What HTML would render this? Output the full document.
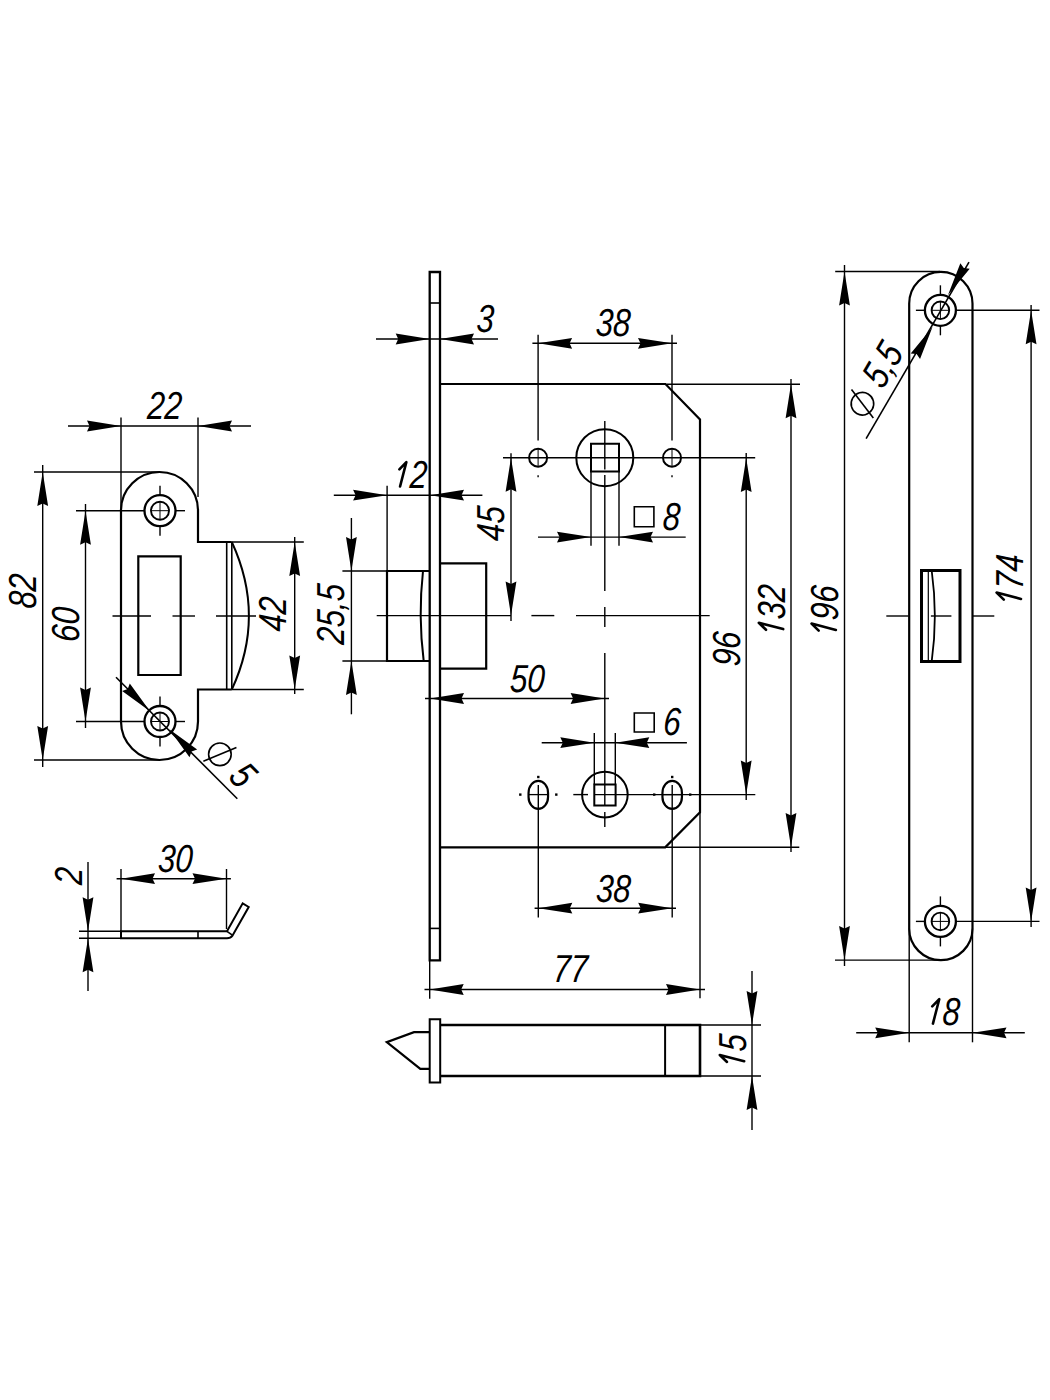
<!DOCTYPE html>
<html><head><meta charset="utf-8"><style>
html,body{margin:0;padding:0;background:#fff;}
svg{display:block;}
text{font-family:"Liberation Sans",sans-serif;font-style:italic;font-size:39px;fill:#000;text-anchor:middle;stroke:none;}
</style></head><body>
<svg width="1050" height="1400" viewBox="0 0 1050 1400" stroke="#000" stroke-linecap="butt" stroke-linejoin="miter">
<rect x="0" y="0" width="1050" height="1400" fill="#fff" stroke="none"/>
<path d="M121 510.5 A38.5 38.5 0 0 1 198 510.5 L198 542 L231.8 542 M231.8 689.5 L198 689.5 L198 721.5 A38.5 38.5 0 0 1 121 721.5 L121 510.5" stroke-width="2.2" fill="none"/>
<line x1="226.7" y1="542" x2="226.7" y2="689.5" stroke-width="1.6"/>
<line x1="231.8" y1="542" x2="231.8" y2="689.5" stroke-width="1.6"/>
<path d="M231.8 542 Q266 616 231.8 689.5" stroke-width="2" fill="none"/>
<path d="M138.3 556.4 L180.7 556.4 L180.7 675 L138.3 675 Z" stroke-width="2.2" fill="none"/>
<circle cx="160" cy="510.7" r="15.5" stroke-width="2.3" fill="none"/>
<circle cx="160" cy="510.7" r="9" stroke-width="1.9" fill="none"/>
<line x1="151.4" y1="510.7" x2="168.6" y2="510.7" stroke-width="1"/>
<line x1="160" y1="502.1" x2="160" y2="519.3" stroke-width="1"/>
<line x1="160" y1="485.7" x2="160" y2="495.2" stroke-width="1.4"/>
<line x1="160" y1="526.2" x2="160" y2="535.7" stroke-width="1.4"/>
<line x1="76" y1="510.7" x2="144.5" y2="510.7" stroke-width="1.4"/>
<line x1="175.5" y1="510.7" x2="185" y2="510.7" stroke-width="1.4"/>
<circle cx="160" cy="721.5" r="15.5" stroke-width="2.3" fill="none"/>
<circle cx="160" cy="721.5" r="9" stroke-width="1.9" fill="none"/>
<line x1="151.4" y1="721.5" x2="168.6" y2="721.5" stroke-width="1"/>
<line x1="160" y1="712.9" x2="160" y2="730.1" stroke-width="1"/>
<line x1="160" y1="696.5" x2="160" y2="706" stroke-width="1.4"/>
<line x1="160" y1="737" x2="160" y2="746.5" stroke-width="1.4"/>
<line x1="76" y1="721.5" x2="144.5" y2="721.5" stroke-width="1.4"/>
<line x1="175.5" y1="721.5" x2="185" y2="721.5" stroke-width="1.4"/>
<line x1="112.5" y1="616" x2="151" y2="616" stroke-width="1.4"/>
<line x1="172.5" y1="616" x2="195" y2="616" stroke-width="1.4"/>
<line x1="216" y1="616" x2="256" y2="616" stroke-width="1.4"/>
<line x1="68" y1="426" x2="251" y2="426" stroke-width="1.4"/>
<path d="M121 426 L87 431.4 L89.5 426 L87 420.6 Z" stroke="none" fill="#000"/>
<path d="M198 426 L232 420.6 L229.5 426 L232 431.4 Z" stroke="none" fill="#000"/>
<line x1="121" y1="417.5" x2="121" y2="510.5" stroke-width="1.4"/>
<line x1="198" y1="417.5" x2="198" y2="497" stroke-width="1.4"/>
<text transform="translate(164.8 405.2) rotate(0) scale(0.8 1) skewX(-4)" x="0" y="13.84">22</text>
<line x1="42.7" y1="465" x2="42.7" y2="767" stroke-width="1.4"/>
<path d="M42.7 472 L48.1 506 L42.7 503.5 L37.3 506 Z" stroke="none" fill="#000"/>
<path d="M42.7 760 L37.3 726 L42.7 728.5 L48.1 726 Z" stroke="none" fill="#000"/>
<line x1="34" y1="472" x2="159" y2="472" stroke-width="1.4"/>
<line x1="34" y1="760" x2="160" y2="760" stroke-width="1.4"/>
<text transform="translate(22 591) rotate(-90) scale(0.8 1) skewX(-4)" x="0" y="13.84">82</text>
<line x1="85.5" y1="504" x2="85.5" y2="728" stroke-width="1.4"/>
<path d="M85.5 510.7 L90.9 544.7 L85.5 542.2 L80.1 544.7 Z" stroke="none" fill="#000"/>
<path d="M85.5 721.5 L80.1 687.5 L85.5 690 L90.9 687.5 Z" stroke="none" fill="#000"/>
<text transform="translate(64.7 624.3) rotate(-90) scale(0.8 1) skewX(-4)" x="0" y="13.84">60</text>
<line x1="231.8" y1="542" x2="303.8" y2="542" stroke-width="1.4"/>
<line x1="231.8" y1="689.5" x2="303.8" y2="689.5" stroke-width="1.4"/>
<line x1="294.7" y1="537" x2="294.7" y2="694" stroke-width="1.4"/>
<path d="M294.7 542 L300.1 576 L294.7 573.5 L289.3 576 Z" stroke="none" fill="#000"/>
<path d="M294.7 689.5 L289.3 655.5 L294.7 658 L300.1 655.5 Z" stroke="none" fill="#000"/>
<text transform="translate(272.5 614) rotate(-90) scale(0.8 1) skewX(-4)" x="0" y="13.84">42</text>
<line x1="116" y1="677.3" x2="237.3" y2="798.7" stroke-width="1.6"/>
<path d="M150 711.3 L122.14 691.08 L127.73 689.03 L129.78 683.44 Z" stroke="none" fill="#000"/>
<path d="M169.3 729.3 L197.16 749.52 L191.57 751.57 L189.52 757.16 Z" stroke="none" fill="#000"/>
<g transform="translate(160 721.3) rotate(45)"><circle cx="65.7" cy="-19" r="11.3" stroke-width="1.6" fill="none"/><line x1="58.9" y1="-2.4" x2="72.5" y2="-35.6" stroke-width="1.6"/><text transform="translate(88 -21) scale(0.8 1) skewX(-4)" x="0" y="13.42" style="text-anchor:start">5</text></g>
<path d="M121 931.3 L227 931.3 L242.7 903.3 L248.7 907 L232.7 935.3 Q230.5 938.2 227 938.2 L121 938.2 Z" stroke-width="2" fill="none"/>
<line x1="227" y1="931.3" x2="232" y2="934.8" stroke-width="1.6"/>
<line x1="198" y1="931.3" x2="198" y2="938.2" stroke-width="1.6"/>
<line x1="79" y1="931.3" x2="121" y2="931.3" stroke-width="1.4"/>
<line x1="79" y1="938.2" x2="121" y2="938.2" stroke-width="1.4"/>
<line x1="88" y1="862" x2="88" y2="991" stroke-width="1.4"/>
<path d="M88 931.3 L82.6 897.3 L88 899.8 L93.4 897.3 Z" stroke="none" fill="#000"/>
<path d="M88 938.2 L93.4 972.2 L88 969.7 L82.6 972.2 Z" stroke="none" fill="#000"/>
<text transform="translate(68 875.7) rotate(-90) scale(0.8 1) skewX(-4)" x="0" y="13.84">2</text>
<line x1="116.6" y1="878.7" x2="230.9" y2="878.7" stroke-width="1.4"/>
<path d="M121 878.7 L155 873.3 L152.5 878.7 L155 884.1 Z" stroke="none" fill="#000"/>
<path d="M226.5 878.7 L192.5 884.1 L195 878.7 L192.5 873.3 Z" stroke="none" fill="#000"/>
<line x1="121" y1="869" x2="121" y2="931" stroke-width="1.4"/>
<line x1="226.5" y1="869" x2="226.5" y2="929" stroke-width="1.4"/>
<text transform="translate(175.5 858) rotate(0) scale(0.8 1) skewX(-4)" x="0" y="13.84">30</text>
<path d="M429.7 272 L440 272 L440 960.3 L429.7 960.3 Z" stroke-width="2.3" fill="none"/>
<line x1="429.7" y1="303" x2="440" y2="303" stroke-width="1.6"/>
<line x1="429.7" y1="928.4" x2="440" y2="928.4" stroke-width="1.6"/>
<path d="M440 384 L665.5 384 L700 419.5 L700 812.4 L665.2 847.4 L440 847.4" stroke-width="2.2" fill="none"/>
<path d="M430 571 L387 571 L387 661 L430 661" stroke-width="2.2" fill="none"/>
<path d="M423 571 Q418 616 423.7 661" stroke-width="2" fill="none"/>
<path d="M440 563.4 L486.2 563.4 L486.2 668.6 L440 668.6" stroke-width="2.2" fill="none"/>
<circle cx="538.1" cy="457.7" r="9" stroke-width="2" fill="none"/>
<line x1="538.1" y1="448.7" x2="538.1" y2="466.7" stroke-width="1"/>
<circle cx="672" cy="457.7" r="9" stroke-width="2" fill="none"/>
<line x1="672" y1="448.7" x2="672" y2="466.7" stroke-width="1"/>
<circle cx="604.8" cy="457.7" r="28.5" stroke-width="2" fill="none"/>
<line x1="538.1" y1="475.3" x2="538.1" y2="477.3" stroke-width="1.4"/>
<line x1="672" y1="475.3" x2="672" y2="477.3" stroke-width="1.4"/>
<path d="M591 443.8 L619 443.8 L619 471.4 L591 471.4 Z" stroke-width="2" fill="none"/>
<line x1="503" y1="457.7" x2="755.2" y2="457.7" stroke-width="1.4"/>
<line x1="604.8" y1="421" x2="604.8" y2="469.5" stroke-width="1.4"/>
<line x1="604.8" y1="475" x2="604.8" y2="591" stroke-width="1.4"/>
<line x1="604.8" y1="607" x2="604.8" y2="627" stroke-width="1.4"/>
<line x1="604.8" y1="653" x2="604.8" y2="805.5" stroke-width="1.4"/>
<line x1="604.8" y1="812" x2="604.8" y2="827" stroke-width="1.4"/>
<line x1="532.4" y1="343.3" x2="677" y2="343.3" stroke-width="1.4"/>
<path d="M538.1 343.3 L572.1 337.9 L569.6 343.3 L572.1 348.7 Z" stroke="none" fill="#000"/>
<path d="M672 343.3 L638 348.7 L640.5 343.3 L638 337.9 Z" stroke="none" fill="#000"/>
<line x1="538.1" y1="334.8" x2="538.1" y2="440.5" stroke-width="1.4"/>
<line x1="672" y1="334.8" x2="672" y2="440.5" stroke-width="1.4"/>
<text transform="translate(613.3 322.5) rotate(0) scale(0.8 1) skewX(-4)" x="0" y="13.84">38</text>
<line x1="376" y1="339" x2="498" y2="339" stroke-width="1.4"/>
<path d="M429.7 339 L395.7 344.4 L398.2 339 L395.7 333.6 Z" stroke="none" fill="#000"/>
<path d="M440 339 L474 333.6 L471.5 339 L474 344.4 Z" stroke="none" fill="#000"/>
<text transform="translate(485.5 318.5) rotate(0) scale(0.8 1) skewX(-4)" x="0" y="13.84">3</text>
<line x1="333.8" y1="495.2" x2="482.4" y2="495.2" stroke-width="1.4"/>
<path d="M387.1 495.2 L353.1 500.6 L355.6 495.2 L353.1 489.8 Z" stroke="none" fill="#000"/>
<path d="M430 495.2 L464 489.8 L461.5 495.2 L464 500.6 Z" stroke="none" fill="#000"/>
<line x1="387.1" y1="485.7" x2="387.1" y2="571" stroke-width="1.4"/>
<g transform="translate(412.8 474.3) rotate(0)"><path d="M-13.45 -5 L-6.45 -12.2 L-12.75 12.2" stroke-width="2.6" fill="none" stroke-linecap="round" stroke-linejoin="round"/><text transform="translate(5.85 0) scale(0.8 1) skewX(-4)" x="0" y="13.84">2</text></g>
<line x1="511" y1="453.3" x2="511" y2="621" stroke-width="1.4"/>
<path d="M511 457.7 L516.4 491.7 L511 489.2 L505.6 491.7 Z" stroke="none" fill="#000"/>
<path d="M511 615.4 L505.6 581.4 L511 583.9 L516.4 581.4 Z" stroke="none" fill="#000"/>
<text transform="translate(489.8 523.3) rotate(-90) scale(0.8 1) skewX(-4)" x="0" y="13.84">45</text>
<line x1="376.7" y1="615.6" x2="511" y2="615.6" stroke-width="1.4"/>
<line x1="531.4" y1="615.6" x2="554.3" y2="615.6" stroke-width="1.4"/>
<line x1="576" y1="615.6" x2="709.7" y2="615.6" stroke-width="1.4"/>
<line x1="351.4" y1="518" x2="351.4" y2="714.3" stroke-width="1.4"/>
<path d="M351.4 571 L346 537 L351.4 539.5 L356.8 537 Z" stroke="none" fill="#000"/>
<path d="M351.4 661 L356.8 695 L351.4 692.5 L346 695 Z" stroke="none" fill="#000"/>
<line x1="342.4" y1="571" x2="387" y2="571" stroke-width="1.4"/>
<line x1="342.4" y1="661" x2="387" y2="661" stroke-width="1.4"/>
<text transform="translate(330.5 614) rotate(-90) scale(0.8 1) skewX(-4)" x="0" y="13.84">25,5</text>
<line x1="425" y1="698.5" x2="609" y2="698.5" stroke-width="1.4"/>
<path d="M430 698.5 L464 693.1 L461.5 698.5 L464 703.9 Z" stroke="none" fill="#000"/>
<path d="M604.6 698.5 L570.6 703.9 L573.1 698.5 L570.6 693.1 Z" stroke="none" fill="#000"/>
<text transform="translate(527.5 677.7) rotate(0) scale(0.8 1) skewX(-4)" x="0" y="13.84">50</text>
<line x1="538" y1="537.1" x2="685.7" y2="537.1" stroke-width="1.4"/>
<path d="M591 537.1 L557 542.5 L559.5 537.1 L557 531.7 Z" stroke="none" fill="#000"/>
<path d="M619 537.1 L653 531.7 L650.5 537.1 L653 542.5 Z" stroke="none" fill="#000"/>
<line x1="591" y1="471.4" x2="591" y2="545.7" stroke-width="1.4"/>
<line x1="619" y1="471.4" x2="619" y2="545.7" stroke-width="1.4"/>
<path d="M634.3 506.7 L653.9 506.7 L653.9 526.7 L634.3 526.7 Z" stroke-width="1.6" fill="none"/>
<text transform="translate(671.8 516.2) rotate(0) scale(0.8 1) skewX(-4)" x="0" y="13.84">8</text>
<line x1="541.7" y1="742.7" x2="686.9" y2="742.7" stroke-width="1.4"/>
<path d="M594.3 742.7 L560.3 748.1 L562.8 742.7 L560.3 737.3 Z" stroke="none" fill="#000"/>
<path d="M615.3 742.7 L649.3 737.3 L646.8 742.7 L649.3 748.1 Z" stroke="none" fill="#000"/>
<line x1="594.3" y1="733" x2="594.3" y2="784.6" stroke-width="1.4"/>
<line x1="615.3" y1="733" x2="615.3" y2="784.6" stroke-width="1.4"/>
<path d="M634.3 713 L654.2 713 L654.2 732 L634.3 732 Z" stroke-width="1.6" fill="none"/>
<text transform="translate(672.3 721.3) rotate(0) scale(0.8 1) skewX(-4)" x="0" y="13.84">6</text>
<rect x="528.55" y="780.9" width="19.5" height="28" rx="9.75" ry="12" stroke-width="2.2" fill="none"/>
<line x1="528.8" y1="794.6" x2="547.8" y2="794.6" stroke-width="1.3"/>
<line x1="538.3" y1="785" x2="538.3" y2="917.6" stroke-width="1.4"/>
<line x1="538.3" y1="775.8" x2="538.3" y2="778.2" stroke-width="2.4"/>
<line x1="520.3" y1="793.4" x2="520.3" y2="795.8" stroke-width="2.4"/>
<line x1="556.3" y1="793.4" x2="556.3" y2="795.8" stroke-width="2.4"/>
<rect x="662.45" y="780.9" width="19.5" height="28" rx="9.75" ry="12" stroke-width="2.2" fill="none"/>
<line x1="662.7" y1="794.6" x2="681.7" y2="794.6" stroke-width="1.3"/>
<line x1="672.2" y1="785" x2="672.2" y2="917.6" stroke-width="1.4"/>
<line x1="672.2" y1="775.8" x2="672.2" y2="778.2" stroke-width="2.4"/>
<line x1="654.2" y1="793.4" x2="654.2" y2="795.8" stroke-width="2.4"/>
<line x1="690.2" y1="793.4" x2="690.2" y2="795.8" stroke-width="2.4"/>
<circle cx="604.9" cy="794.6" r="22.8" stroke-width="2" fill="none"/>
<path d="M594.3 784.6 L615.6 784.6 L615.6 805.5 L594.3 805.5 Z" stroke-width="2" fill="none"/>
<line x1="573.3" y1="794.6" x2="588" y2="794.6" stroke-width="1.4"/>
<line x1="594.3" y1="794.6" x2="755.3" y2="794.6" stroke-width="1.4"/>
<line x1="534.6" y1="908.2" x2="676" y2="908.2" stroke-width="1.4"/>
<path d="M538.3 908.2 L572.3 902.8 L569.8 908.2 L572.3 913.6 Z" stroke="none" fill="#000"/>
<path d="M672.2 908.2 L638.2 913.6 L640.7 908.2 L638.2 902.8 Z" stroke="none" fill="#000"/>
<text transform="translate(613.6 887.8) rotate(0) scale(0.8 1) skewX(-4)" x="0" y="13.84">38</text>
<line x1="666.7" y1="384.2" x2="800" y2="384.2" stroke-width="1.4"/>
<line x1="665.2" y1="847.2" x2="799.3" y2="847.2" stroke-width="1.4"/>
<line x1="791" y1="379" x2="791" y2="852" stroke-width="1.4"/>
<path d="M791 384.3 L796.4 418.3 L791 415.8 L785.6 418.3 Z" stroke="none" fill="#000"/>
<path d="M791 847 L785.6 813 L791 815.5 L796.4 813 Z" stroke="none" fill="#000"/>
<g transform="translate(771 607.6) rotate(-90)"><path d="M-22.2 -5 L-15.2 -12.2 L-21.5 12.2" stroke-width="2.6" fill="none" stroke-linecap="round" stroke-linejoin="round"/><text transform="translate(5.85 0) scale(0.8 1) skewX(-4)" x="0" y="13.84">32</text></g>
<line x1="746.2" y1="453" x2="746.2" y2="800" stroke-width="1.4"/>
<path d="M746.2 458 L751.6 492 L746.2 489.5 L740.8 492 Z" stroke="none" fill="#000"/>
<path d="M746.2 794.6 L740.8 760.6 L746.2 763.1 L751.6 760.6 Z" stroke="none" fill="#000"/>
<text transform="translate(726 648.7) rotate(-90) scale(0.8 1) skewX(-4)" x="0" y="13.84">96</text>
<line x1="844.5" y1="265" x2="844.5" y2="966" stroke-width="1.4"/>
<path d="M844.5 271.5 L849.9 305.5 L844.5 303 L839.1 305.5 Z" stroke="none" fill="#000"/>
<path d="M844.5 960.1 L839.1 926.1 L844.5 928.6 L849.9 926.1 Z" stroke="none" fill="#000"/>
<line x1="835.2" y1="271.5" x2="940" y2="271.5" stroke-width="1.4"/>
<line x1="835" y1="960.1" x2="940" y2="960.1" stroke-width="1.4"/>
<g transform="translate(823.7 608.4) rotate(-90)"><path d="M-22.2 -5 L-15.2 -12.2 L-21.5 12.2" stroke-width="2.6" fill="none" stroke-linecap="round" stroke-linejoin="round"/><text transform="translate(5.85 0) scale(0.8 1) skewX(-4)" x="0" y="13.84">96</text></g>
<line x1="429.7" y1="960" x2="429.7" y2="998.7" stroke-width="1.4"/>
<line x1="700" y1="812" x2="700" y2="998.3" stroke-width="1.4"/>
<line x1="424.5" y1="989.5" x2="705" y2="989.5" stroke-width="1.4"/>
<path d="M429.7 989.5 L463.7 984.1 L461.2 989.5 L463.7 994.9 Z" stroke="none" fill="#000"/>
<path d="M700 989.5 L666 994.9 L668.5 989.5 L666 984.1 Z" stroke="none" fill="#000"/>
<text transform="translate(570.5 968.5) rotate(0) scale(0.8 1) skewX(-4)" x="0" y="13.84">77</text>
<path d="M429.7 1019.2 L440.2 1019.2 L440.2 1082.5 L429.7 1082.5 Z" stroke-width="2" fill="none"/>
<path d="M440.2 1025 L700 1025 L700 1076 L440.2 1076" stroke-width="2.6" fill="none"/>
<line x1="665.1" y1="1025" x2="665.1" y2="1076" stroke-width="2"/>
<path d="M429.7 1032.2 L414 1032.2 L386.8 1042.2 L420.3 1068.8 L429.7 1068.8" stroke-width="2.2" fill="none"/>
<line x1="700" y1="1025" x2="761" y2="1025" stroke-width="1.4"/>
<line x1="700" y1="1076" x2="761" y2="1076" stroke-width="1.4"/>
<line x1="752" y1="971" x2="752" y2="1130" stroke-width="1.4"/>
<path d="M752 1025 L746.6 991 L752 993.5 L757.4 991 Z" stroke="none" fill="#000"/>
<path d="M752 1076 L757.4 1110 L752 1107.5 L746.6 1110 Z" stroke="none" fill="#000"/>
<g transform="translate(732 1048.5) rotate(-90)"><path d="M-13.45 -5 L-6.45 -12.2 L-12.75 12.2" stroke-width="2.6" fill="none" stroke-linecap="round" stroke-linejoin="round"/><text transform="translate(5.85 0) scale(0.8 1) skewX(-4)" x="0" y="13.84">5</text></g>
<path d="M909.2 303.6 A31.65 31.65 0 0 1 972.5 303.6 L972.5 928.5 A31.65 31.65 0 0 1 909.2 928.5 Z" stroke-width="2.2" fill="none"/>
<circle cx="940.4" cy="310.3" r="15.5" stroke-width="2.3" fill="none"/>
<circle cx="940.4" cy="310.3" r="8.8" stroke-width="1.9" fill="none"/>
<line x1="931.9" y1="310.3" x2="948.9" y2="310.3" stroke-width="1"/>
<line x1="940.4" y1="301.8" x2="940.4" y2="318.8" stroke-width="1"/>
<line x1="940.4" y1="285.3" x2="940.4" y2="294.8" stroke-width="1.4"/>
<line x1="940.4" y1="325.8" x2="940.4" y2="335.3" stroke-width="1.4"/>
<line x1="915.9" y1="310.3" x2="924.9" y2="310.3" stroke-width="1.4"/>
<line x1="955.9" y1="310.3" x2="1039.5" y2="310.3" stroke-width="1.4"/>
<circle cx="940.4" cy="921.4" r="15.5" stroke-width="2.3" fill="none"/>
<circle cx="940.4" cy="921.4" r="8.8" stroke-width="1.9" fill="none"/>
<line x1="931.9" y1="921.4" x2="948.9" y2="921.4" stroke-width="1"/>
<line x1="940.4" y1="912.9" x2="940.4" y2="929.9" stroke-width="1"/>
<line x1="940.4" y1="896.4" x2="940.4" y2="905.9" stroke-width="1.4"/>
<line x1="940.4" y1="936.9" x2="940.4" y2="946.4" stroke-width="1.4"/>
<line x1="915.9" y1="921.4" x2="924.9" y2="921.4" stroke-width="1.4"/>
<line x1="955.9" y1="921.4" x2="1039.5" y2="921.4" stroke-width="1.4"/>
<path d="M921.5 570.5 L960 570.5 L960 661.5 L921.5 661.5 Z" stroke-width="3" fill="none"/>
<line x1="928.3" y1="570.5" x2="928.3" y2="661.5" stroke-width="1.2"/>
<path d="M931.7 570.5 Q938 616 931.7 661.5" stroke-width="1.8" fill="none"/>
<line x1="886.3" y1="616" x2="908.6" y2="616" stroke-width="1.4"/>
<line x1="930.9" y1="616" x2="951.4" y2="616" stroke-width="1.4"/>
<line x1="972.5" y1="616" x2="994.3" y2="616" stroke-width="1.4"/>
<line x1="1031.1" y1="305" x2="1031.1" y2="927" stroke-width="1.4"/>
<path d="M1031.1 310.3 L1036.5 344.3 L1031.1 341.8 L1025.7 344.3 Z" stroke="none" fill="#000"/>
<path d="M1031.1 921.4 L1025.7 887.4 L1031.1 889.9 L1036.5 887.4 Z" stroke="none" fill="#000"/>
<g transform="translate(1008.8 577.4) rotate(-90)"><path d="M-22.2 -5 L-15.2 -12.2 L-21.5 12.2" stroke-width="2.6" fill="none" stroke-linecap="round" stroke-linejoin="round"/><text transform="translate(5.85 0) scale(0.8 1) skewX(-4)" x="0" y="13.84">74</text></g>
<line x1="866.1" y1="438.6" x2="969" y2="262.1" stroke-width="1.6"/>
<path d="M932.5 326.9 L920.04 358.99 L916.63 354.11 L910.71 353.55 Z" stroke="none" fill="#000"/>
<path d="M947.9 295.3 L960.36 263.21 L963.77 268.09 L969.69 268.65 Z" stroke="none" fill="#000"/>
<g transform="translate(940.4 310.3) rotate(-59.76)"><circle cx="-120" cy="-20.3" r="11.3" stroke-width="1.6" fill="none"/><line x1="-126.8" y1="-3.7" x2="-113.2" y2="-36.9" stroke-width="1.6"/><text transform="translate(-97.5 -23) scale(0.8 1) skewX(-4)" x="0" y="13.42" style="text-anchor:start">5,5</text></g>
<line x1="909.2" y1="928.5" x2="909.2" y2="1042.3" stroke-width="1.4"/>
<line x1="972.5" y1="928.5" x2="972.5" y2="1042.3" stroke-width="1.4"/>
<line x1="856.2" y1="1032.8" x2="1024.8" y2="1032.8" stroke-width="1.4"/>
<path d="M909.2 1032.8 L875.2 1038.2 L877.7 1032.8 L875.2 1027.4 Z" stroke="none" fill="#000"/>
<path d="M972.5 1032.8 L1006.5 1027.4 L1004 1032.8 L1006.5 1038.2 Z" stroke="none" fill="#000"/>
<g transform="translate(945.7 1011.4) rotate(0)"><path d="M-13.45 -5 L-6.45 -12.2 L-12.75 12.2" stroke-width="2.6" fill="none" stroke-linecap="round" stroke-linejoin="round"/><text transform="translate(5.85 0) scale(0.8 1) skewX(-4)" x="0" y="13.84">8</text></g>
</svg>
</body></html>
